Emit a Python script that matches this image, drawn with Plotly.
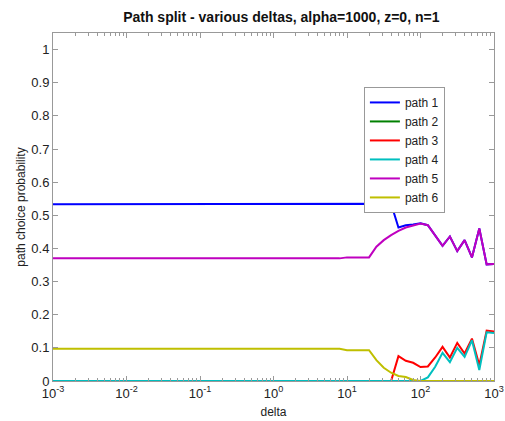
import plotly.graph_objects as go

# sampled deltas (log-spaced grid)
delta = [0.001, 0.01, 0.1, 1, 7.943, 10, 12.59, 15.85, 19.95, 25.12, 31.62,
         39.81, 50.12, 63.10, 79.43, 100, 125.9, 158.5, 199.5, 251.2, 316.2,
         398.1, 501.2, 631.0, 794.3, 1000]

path1 = [0.533, 0.533, 0.533, 0.533, 0.533, 0.533, 0.533, 0.533, 0.533, 0.533, 0.533,
         0.535, 0.463, 0.470, 0.472, 0.476, 0.470, 0.440, 0.408, 0.436, 0.392,
         0.425, 0.373, 0.460, 0.352, 0.353]
path2 = [0.0] * 26
path3 = [0.0, 0.0, 0.0, 0.0, 0.0, 0.0, 0.0, 0.0, 0.0, 0.0, 0.0,
         0.0, 0.075, 0.061, 0.055, 0.042, 0.044, 0.071, 0.103, 0.071, 0.115,
         0.083, 0.128, 0.048, 0.152, 0.149]
path4 = [0.0, 0.0, 0.0, 0.0, 0.0, 0.0, 0.0, 0.0, 0.0, 0.0, 0.0,
         0.0, 0.0, 0.0, 0.0, 0.0, 0.011, 0.043, 0.085, 0.057, 0.100,
         0.073, 0.123, 0.033, 0.147, 0.145]
path5 = [0.370, 0.370, 0.370, 0.370, 0.370, 0.373, 0.373, 0.373, 0.373, 0.405, 0.425,
         0.440, 0.453, 0.463, 0.470, 0.475, 0.470, 0.440, 0.408, 0.436, 0.392,
         0.425, 0.373, 0.460, 0.352, 0.353]
path6 = [0.097, 0.097, 0.097, 0.097, 0.097, 0.093, 0.093, 0.093, 0.093, 0.063, 0.040,
         0.025, 0.015, 0.012, 0.003, 0.0, 0.0, 0.0, 0.0, 0.0, 0.0,
         0.0, 0.0, 0.0, 0.0, 0.0]

names = ["path 1", "path 2", "path 3", "path 4", "path 5", "path 6"]
colors = ["#0000ff", "#008000", "#ff0000", "#00bfbf", "#bf00bf", "#bfbf00"]
series = [path1, path2, path3, path4, path5, path6]

x_tickvals = [0.001, 0.01, 0.1, 1, 10, 100, 1000]
x_ticktext = ["10<sup>-3</sup>", "10<sup>-2</sup>", "10<sup>-1</sup>", "10<sup>0</sup>",
              "10<sup>1</sup>", "10<sup>2</sup>", "10<sup>3</sup>"]
x_minor_vals = [m * d for d in [0.001, 0.01, 0.1, 1, 10, 100] for m in range(2, 10)]
y_tickvals = [0, 0.1, 0.2, 0.3, 0.4, 0.5, 0.6, 0.7, 0.8, 0.9, 1]
y_ticktext = ["0", "0.1", "0.2", "0.3", "0.4", "0.5", "0.6", "0.7", "0.8", "0.9", "1"]

fig = go.Figure()
for n, c, s in zip(names, colors, series):
    fig.add_trace(go.Scatter(x=delta, y=s, mode="lines", name=n,
                             line=dict(color=c, width=2)))

font = "Liberation Sans, Arial, sans-serif"
axis_col = "#999"
fig.update_layout(
    width=505, height=421,
    margin=dict(l=53, r=11, t=33, b=40),
    paper_bgcolor="white", plot_bgcolor="white",
    font=dict(family=font, size=13, color="#222"),
    title=dict(text="<b>Path split - various deltas, alpha=1000, z=0, n=1</b>",
               x=0.557, xanchor="center", y=0.96, yanchor="middle", yref="container",
               font=dict(size=14, color="#111")),
    legend=dict(x=0.705, y=0.845, xanchor="left", yanchor="top",
                bgcolor="white", bordercolor=axis_col, borderwidth=1,
                font=dict(size=12), tracegroupgap=0),
    showlegend=True,
)
fig.update_xaxes(type="log", range=[-3, 3], tickmode="array",
                 tickvals=x_tickvals, ticktext=x_ticktext,
                 ticks="inside", ticklen=5, tickcolor=axis_col, showline=True,
                 linecolor=axis_col, mirror="ticks", showgrid=False, zeroline=False,
                 automargin=False,
                 minor=dict(tickmode="array", tickvals=x_minor_vals, ticks="inside",
                            ticklen=3, tickcolor=axis_col, showgrid=False),
                 title=dict(text="delta", font=dict(size=12), standoff=8))
fig.update_yaxes(range=[0, 1.05], tickmode="array", tickvals=y_tickvals,
                 ticktext=y_ticktext,
                 ticks="inside", ticklen=5, tickcolor=axis_col, showline=True,
                 linecolor=axis_col, mirror="ticks", showgrid=False, zeroline=False,
                 automargin=False,
                 title=dict(text="path choice probability", font=dict(size=12),
                            standoff=3))

fig.write_html("out.html")
